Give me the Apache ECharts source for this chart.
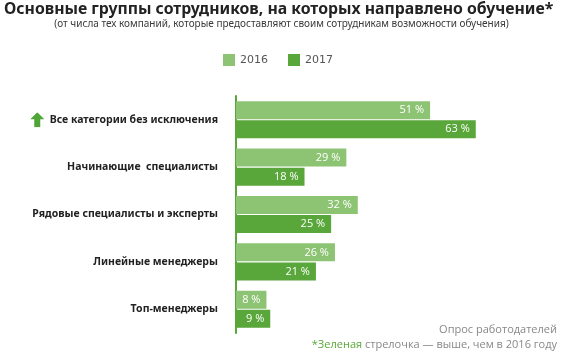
<!DOCTYPE html>
<html>
<head>
<meta charset="utf-8">
<script src="https://cdn.jsdelivr.net/npm/echarts@6/dist/echarts.min.js"></script>
<style>
  html, body { margin: 0; padding: 0; background: #fff; }
  #chart { width: 563px; height: 352px; }
</style>
</head>
<body>
<div id="chart"></div>
<script>
// data
const categories = [
  'Все категории без исключения',
  'Начинающие  специалисты',
  'Рядовые специалисты и эксперты',
  'Линейные менеджеры',
  'Топ-менеджеры'
];
const years = ['2016', '2017'];
const values2016 = [51, 29, 32, 26, 8];
const values2017 = [63, 18, 25, 21, 9];
const risen = ['Все категории без исключения'];

const light = '#8dc474';
const dark = '#59a63a';

const arrowSvg = 'data:image/svg+xml;utf8,' + encodeURIComponent(
  '<svg xmlns="http://www.w3.org/2000/svg" width="14" height="15" viewBox="0 0 14 15">' +
  '<polygon points="7,0 14,7 10,7 10,15 4,15 4,7 0,7" fill="#4fa638"/></svg>');

const chart = echarts.init(document.getElementById('chart'));

const barLabel = {
  show: true,
  position: 'insideRight',
  distance: 6,
  color: '#fff',
  fontFamily: 'Open Sans',
  fontSize: 11,
  formatter: p => p.value + ' %'
};

chart.setOption({
  animation: false,
  title: {
    text: 'Основные группы сотрудников, на которых направлено обучение*',
    left: -1,
    top: -4,
    textStyle: { fontFamily: 'Noto Sans', fontWeight: 'bold', fontSize: 15.8, color: '#222' }
  },
  legend: {
    top: 49,
    left: 218,
    itemWidth: 12,
    itemHeight: 12,
    itemGap: 20,
    icon: 'rect',
    textStyle: { fontFamily: 'DejaVu Sans', fontSize: 11, color: '#555' },
    data: years
  },
  grid: { left: 236, top: 96, width: 274, height: 237 },
  xAxis: {
    type: 'value',
    min: 0,
    max: 72,
    show: false
  },
  yAxis: {
    type: 'category',
    data: categories,
    inverse: true,
    offset: 6,
    axisLine: { show: true, lineStyle: { color: dark, width: 2 } },
    axisTick: { show: false },
    axisLabel: {
      margin: 12,
      fontFamily: 'Noto Sans',
      fontWeight: 'bold',
      fontSize: 10.5,
      color: '#222',
      formatter: v => risen.includes(v) ? '{up|}  ' + v : v,
      rich: {
        up: { width: 14, height: 15, backgroundColor: { image: arrowSvg } }
      }
    }
  },
  series: [
    {
      name: years[0],
      type: 'bar',
      data: values2016,
      barWidth: 18,
      barGap: '6%',
      itemStyle: { color: light },
      label: barLabel
    },
    {
      name: years[1],
      type: 'bar',
      data: values2017,
      barWidth: 18,
      itemStyle: { color: dark },
      label: barLabel
    }
  ],
  graphic: [
    {
      type: 'text',
      left: 'center',
      top: 19,
      style: {
        text: '(от числа тех компаний, которые предоставляют своим сотрудникам возможности обучения)',
        fontFamily: 'Noto Sans', fontSize: 10, fill: '#3a3a3a'
      }
    },
    {
      type: 'text',
      right: 6,
      top: 324,
      style: { text: 'Опрос работодателей', fontFamily: 'Open Sans', fontSize: 11, fill: '#888' }
    },
    {
      type: 'text',
      right: 6,
      top: 339,
      style: {
        text: '{g|*Зеленая} стрелочка — выше, чем в 2016 году',
        fontFamily: 'Open Sans',
        fontSize: 11,
        fill: '#888',
        rich: { g: { fill: '#5aa839', fontFamily: 'Open Sans', fontSize: 11 } }
      }
    }
  ]
});
</script>
</body>
</html>
